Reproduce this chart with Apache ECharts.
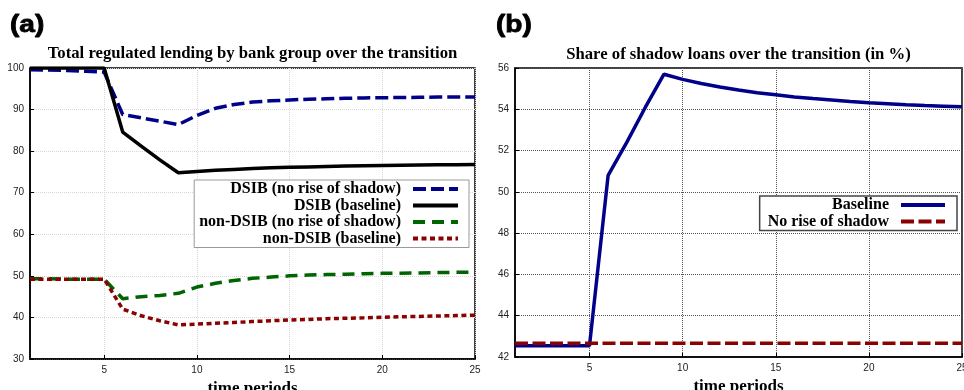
<!DOCTYPE html>
<html>
<head>
<meta charset="utf-8">
<script src="https://cdn.jsdelivr.net/npm/echarts@6/dist/echarts.min.js"></script>
<style>
  html, body { margin: 0; padding: 0; background: #fff; }
  #chart { width: 964px; height: 390px; }
</style>
</head>
<body>
<div id="chart"></div>
<script>
// Time periods of the transition
const periods = [1,2,3,4,5,6,7,8,9,10,11,12,13,14,15,16,17,18,19,20,21,22,23,24,25];
const periodTicks = [5, 10, 15, 20, 25];

// Panel (a): regulated lending by bank group
const dsibNoRise = [99.6,99.5,99.4,99.2,99.0,88.8,88.0,87.2,86.4,88.6,90.3,91.2,91.8,92.1,92.3,92.5,92.6,92.7,92.8,92.85,92.9,92.95,93.0,93.0,93.0];
const dsibBase = [100,100,100,100,100,84.6,81.2,77.9,74.8,75.1,75.4,75.6,75.8,76.0,76.1,76.2,76.3,76.4,76.5,76.55,76.6,76.65,76.7,76.75,76.8];
const nonDsibNoRise = [49.3,49.3,49.2,49.2,49.2,44.5,45.0,45.3,45.8,47.3,48.2,48.9,49.4,49.7,50.0,50.2,50.3,50.4,50.5,50.6,50.65,50.7,50.8,50.85,50.9];
const nonDsibBase = [49.2,49.2,49.2,49.2,49.2,42.0,40.4,39.2,38.2,38.4,38.6,38.8,39.0,39.2,39.4,39.5,39.7,39.8,39.9,40.05,40.15,40.25,40.35,40.45,40.55];

// Panel (b): share of shadow loans (in %)
const shadowBase = [42.55,42.55,42.55,42.55,42.55,50.8,52.4,54.1,55.7,55.45,55.25,55.08,54.93,54.8,54.7,54.6,54.52,54.45,54.38,54.32,54.27,54.22,54.18,54.15,54.12];
const shadowNoRise = [42.67,42.67,42.67,42.67,42.67,42.67,42.67,42.67,42.67,42.67,42.67,42.67,42.67,42.67,42.67,42.67,42.67,42.67,42.67,42.67,42.67,42.67,42.67,42.67,42.67];

const SERIF = '"Liberation Serif", "DejaVu Serif", serif';
const SANS = '"Liberation Sans", Arial, sans-serif';

const pairs = (ys) => periods.map((x, i) => [x, ys[i]]);

function xAxisFor(gridIndex, nameGap, splitColor) {
  return {
    type: 'value', gridIndex: gridIndex, min: 1, max: 25,
    name: 'time periods', nameLocation: 'middle', nameGap: nameGap,
    nameTextStyle: { fontFamily: SERIF, fontWeight: 'bold', fontSize: 17, color: '#000' },
    axisLine: { onZero: false, lineStyle: { color: '#000', width: 1.5 } },
    axisTick: { inside: true, length: 4, customValues: periodTicks, lineStyle: { color: '#000' } },
    axisLabel: { customValues: periodTicks, margin: 6, fontFamily: SANS, fontSize: 10, color: '#222' },
    splitLine: { show: true, lineStyle: { color: splitColor, type: 'dotted', width: 1 } }
  };
}

function yAxisFor(gridIndex, min, max, interval, splitColor) {
  return {
    type: 'value', gridIndex: gridIndex, min: min, max: max, interval: interval,
    axisLine: { show: true, lineStyle: { color: '#000', width: 1.5 } },
    axisTick: { show: true, inside: true, length: 4, lineStyle: { color: '#000' } },
    axisLabel: { margin: 6, fontFamily: SANS, fontSize: 10, color: '#222' },
    splitLine: { show: true, lineStyle: { color: splitColor, type: 'dotted', width: 1 } }
  };
}

function lineSeries(name, data, xi, color, width, dash) {
  return {
    name: name, type: 'line', xAxisIndex: xi, yAxisIndex: xi,
    data: pairs(data), symbol: 'none', smooth: false,
    lineStyle: { color: color, width: width, type: dash || 'solid', cap: 'butt' },
    itemStyle: { color: color },
    z: 3
  };
}

const legendText = {
  fontFamily: SERIF, fontWeight: 'bold', fontSize: 16, color: '#000', lineHeight: 16,
  rich: { t: { fontFamily: SERIF, fontWeight: 'bold', fontSize: 16, color: '#000', lineHeight: 16, padding: [0, 7, 0, 0] } }
};
// legend samples: just the stroke, no marker
const legendMarker = { color: 'rgba(0,0,0,0)', borderWidth: 0, opacity: 0 };

const chart = echarts.init(document.getElementById('chart'), null, { renderer: 'canvas' });
chart.setOption({
  animation: false,
  backgroundColor: '#fff',
  title: [
    { text: 'Total regulated lending by bank group over the transition', left: 252.5, top: 45.5, padding: 0, textAlign: 'center',
      textStyle: { fontFamily: SERIF, fontWeight: 'bold', fontSize: 16.7, color: '#000' } },
    { text: 'Share of shadow loans over the transition (in %)', left: 738.5, top: 46.5, padding: 0, textAlign: 'center',
      textStyle: { fontFamily: SERIF, fontWeight: 'bold', fontSize: 16.7, color: '#000' } }
  ],
  graphic: [
    { type: 'text', x: 10, y: 14, scaleX: 1.22, style: { text: '(a)', font: 'bold 23px ' + SANS, fill: '#000', stroke: '#000', lineWidth: 0.8 } },
    { type: 'text', x: 496, y: 14, scaleX: 1.22, style: { text: '(b)', font: 'bold 23px ' + SANS, fill: '#000', stroke: '#000', lineWidth: 0.8 } }
  ],
  grid: [
    { left: 30, right: 489, top: 68, bottom: 31, show: true, borderColor: '#000', borderWidth: 1.5, containLabel: false, outerBoundsMode: 'none' },
    { left: 515, right: 2, top: 68, bottom: 33, show: true, borderColor: '#000', borderWidth: 1.5, containLabel: false, outerBoundsMode: 'none' }
  ],
  xAxis: [ xAxisFor(0, 16, '#d8d8d8'), xAxisFor(1, 18, '#555') ],
  yAxis: [ yAxisFor(0, 30, 100, 10, '#d8d8d8'), yAxisFor(1, 42, 56, 2, '#555') ],
  legend: [
    {
      orient: 'vertical', align: 'right', right: 495, top: 180,
      itemWidth: 45, itemHeight: 14, itemGap: 0.5, padding: [1, 9, 1, 5],
      backgroundColor: '#fff', borderColor: '#999', borderWidth: 1, borderRadius: 0,
      itemStyle: legendMarker, lineStyle: { width: 4 },
      data: ['DSIB (no rise of shadow)', 'DSIB (baseline)', 'non-DSIB (no rise of shadow)', 'non-DSIB (baseline)'],
      formatter: (n) => '{t|' + n + '}',
      textStyle: legendText
    },
    {
      orient: 'vertical', align: 'right', right: 7, top: 196,
      itemWidth: 44, itemHeight: 14, itemGap: 0.5, padding: [1, 10, 1, 8],
      backgroundColor: '#fff', borderColor: '#444', borderWidth: 1.5, borderRadius: 0,
      itemStyle: legendMarker, lineStyle: { width: 4 },
      data: ['Baseline', 'No rise of shadow'],
      formatter: (n) => '{t|' + n + '}',
      textStyle: legendText
    }
  ],
  series: [
    lineSeries('DSIB (no rise of shadow)', dsibNoRise, 0, '#00008b', 3.5, [13, 5]),
    lineSeries('DSIB (baseline)', dsibBase, 0, '#000000', 3.5),
    lineSeries('non-DSIB (no rise of shadow)', nonDsibNoRise, 0, '#006400', 3.5, [12, 7]),
    lineSeries('non-DSIB (baseline)', nonDsibBase, 0, '#8b0000', 3.5, [5, 3.5]),
    lineSeries('Baseline', shadowBase, 1, '#00008b', 3.5),
    lineSeries('No rise of shadow', shadowNoRise, 1, '#8b0000', 3.5, [13, 4.5])
  ]
});
</script>
</body>
</html>
